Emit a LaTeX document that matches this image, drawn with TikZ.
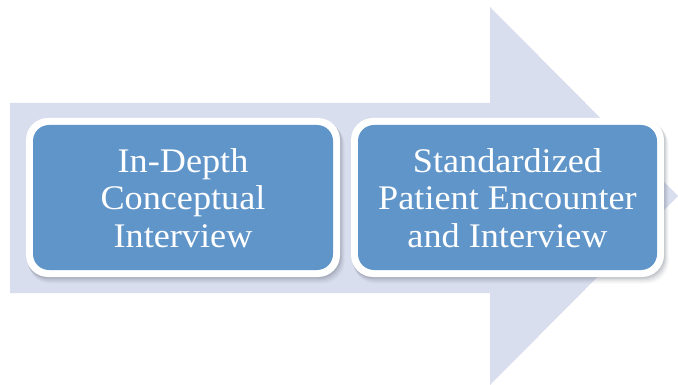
\documentclass[tikz,border=0pt]{standalone}
\usepackage{fontspec}
\setmainfont{Liberation Serif}[FakeStretch=1.05]
\definecolor{arrowbg}{HTML}{D9DEEE}
\definecolor{boxblue}{HTML}{6095C9}
\definecolor{shade}{HTML}{4A5060}
\tikzset{
  outerbox/.style={fill=white, rounded corners=22pt},
  innerbox/.style={fill=boxblue, rounded corners=16pt},
  shadowbox/.style={fill=shade, rounded corners=22pt},
  boxtext/.style={text=white, align=center, inner sep=0pt,
    font=\fontsize{34.5}{37.5}\selectfont}
}
\begin{document}
\begin{tikzpicture}[x=1pt,y=-1pt]
\useasboundingbox (0,0) rectangle (678,385);
\fill[white] (0,0) rectangle (678,385);
% big background arrow
\fill[arrowbg] (10,103) -- (490,103) -- (490,7) -- (678,196) -- (490,385) -- (490,293) -- (10,293) -- cycle;
% shadows
\foreach \d/\o in {1/0.10,2/0.08,3/0.07,4/0.05,5/0.04,6/0.03}{
  \fill[shadowbox, opacity=\o] (26+\d*0.4,118+\d*0.9) rectangle (340+\d*0.8,277+\d*1.1);
  \fill[shadowbox, opacity=\o] (351+\d*0.4,118+\d*0.9) rectangle (664+\d*0.8,277+\d*1.1);
}
% box 1
\fill[outerbox] (26,118) rectangle (340,277);
\fill[innerbox] (33,125) rectangle (333,270);
\node[boxtext] (b1) at (183,198) {In-Depth\\Conceptual\\Interview};
% box 2
\fill[outerbox] (351,118) rectangle (664,277);
\fill[innerbox] (358,125) rectangle (657,270);
\node[boxtext] (b2) at (507.5,198) {Standardized\\Patient Encounter\\and Interview};
\end{tikzpicture}
\end{document}
